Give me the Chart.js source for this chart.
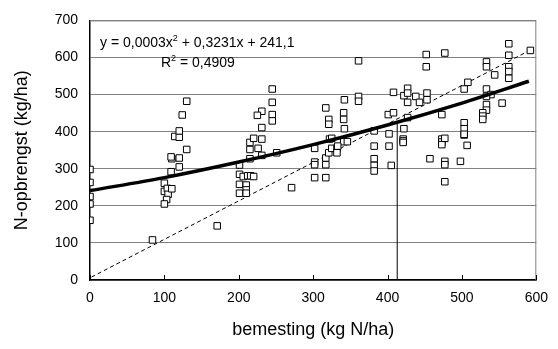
<!DOCTYPE html>
<html lang="nl">
<head>
  <meta charset="UTF-8" />
  <title>N-opbrengst vs bemesting</title>
  <script src="https://cdn.jsdelivr.net/npm/chart.js"></script>
  <style>
    body { margin: 0; background: #fff; }
    .chart-container { position: relative; width: 558px; height: 349px; }
  </style>
</head>
<body>
  <div class="chart-container">
    <canvas id="scatterChart" width="558" height="349"></canvas>
  </div>

  <script>
    // measured points (bemesting, N-opbrengst)
    const ptX = [
      0, 0, 0, 0, 0, 84, 171,
      100, 100, 104, 105, 103, 100, 110, 109, 110, 109, 120, 120, 130, 114, 120, 120, 124, 130,
      201, 201, 201, 201, 206, 210, 210, 210, 212, 216, 220, 215, 215, 215, 220, 226, 231, 231, 251,
      245, 245, 245, 245, 231, 225, 231, 271,
      302, 302, 302, 302, 317, 317, 317, 321, 325, 332, 332, 322, 325, 341, 346, 333, 317, 321, 321,
      341, 341, 342, 342, 361, 361, 361,
      382, 382, 382, 382, 382, 402, 402, 405, 401, 408, 408, 422, 422, 421, 421, 421, 427, 427, 427, 427,
      438, 443, 453, 453, 452, 452, 473, 457, 473, 473, 473, 477, 477, 477, 477, 477,
      498, 503, 507, 503, 503, 503, 508, 503,
      533, 533, 533, 539, 533, 533, 533, 528, 528, 528, 554, 544,
      563, 563, 563, 563, 563, 592
    ];
    const ptY = [
      298, 263, 225, 205, 161, 108, 146,
      261, 239, 247, 231, 217, 205, 246, 292, 327, 332, 329, 305, 352, 387, 385, 402, 445, 482,
      310, 285, 258, 234, 279, 256, 243, 234, 281, 281, 279, 327, 352, 371, 382, 355, 380, 336, 343,
      515, 479, 446, 429, 455, 444, 411, 249,
      355, 318, 311, 276, 276, 311, 329, 343, 355, 355, 343, 380, 382, 373, 373, 361, 464, 433, 420,
      451, 433, 408, 486, 591, 495, 482,
      402, 361, 327, 309, 294, 394, 361, 309, 446, 451, 506, 497, 408, 380, 375, 371, 517, 504, 479, 438,
      495, 479, 504, 486, 608, 575, 446, 327, 380, 372, 365, 382, 320, 311, 265, 612,
      320, 391, 363, 424, 408, 393, 533, 515,
      588, 575, 515, 500, 495, 473, 458, 451, 442, 433, 477, 553,
      637, 606, 575, 562, 544, 619
    ];

    // trend line
    const trendX = [0, 100, 200, 300, 400, 500, 590];
    const trendY = [241, 276, 318, 365, 418, 477, 536];

    // dashed reference line and vertical marker
    const diagX = [2, 592];
    const diagY = [8, 620];
    const markX = [413, 413];
    const markY = [0, 426];

    const xTicks = [0, 100, 200, 300, 400, 500, 600];

    const FONT = '"Liberation Sans", Arial, sans-serif';
    const toXY = (xs, ys) => xs.map((x, i) => ({ x: x, y: ys[i] }));

    // equation label, inward x ticks and grey frame
    const extrasPlugin = {
      id: 'extras',
      afterDraw(chart) {
        const ctx = chart.ctx;
        const a = chart.chartArea;
        const xs = chart.scales.x;
        ctx.save();
        ctx.strokeStyle = '#808080';
        ctx.lineWidth = 1;
        ctx.beginPath();
        ctx.moveTo(a.left, a.top + 0.5);
        ctx.lineTo(a.right - 0.5, a.top + 0.5);
        ctx.lineTo(a.right - 0.5, a.bottom);
        ctx.stroke();

        ctx.strokeStyle = '#000';
        ctx.beginPath();
        xTicks.forEach(v => {
          const px = Math.round(xs.getPixelForValue(v)) + 0.5;
          ctx.moveTo(px, a.bottom);
          ctx.lineTo(px, a.bottom - 5);
        });
        ctx.stroke();

        ctx.fillStyle = '#000';
        ctx.textBaseline = 'alphabetic';
        const big = '14px ' + FONT;
        const small = '9px ' + FONT;
        ctx.font = big;
        let x = 100;
        const y1 = 47;
        let t = 'y = 0,0003x';
        ctx.fillText(t, x, y1);
        x += ctx.measureText(t).width;
        ctx.font = small;
        ctx.fillText('2', x, y1 - 6);
        x += ctx.measureText('2').width;
        ctx.font = big;
        ctx.fillText(' + 0,3231x + 241,1', x, y1);

        x = 161;
        const y2 = 67;
        ctx.fillText('R', x, y2);
        x += ctx.measureText('R').width;
        ctx.font = small;
        ctx.fillText('2', x, y2 - 6);
        x += ctx.measureText('2').width;
        ctx.font = big;
        ctx.fillText(' = 0,4909', x, y2);
        ctx.restore();
      }
    };

    const ctx = document.getElementById('scatterChart').getContext('2d');
    new Chart(ctx, {
      type: 'scatter',
      data: {
        datasets: [
          {
            label: 'metingen',
            data: toXY(ptX, ptY),
            pointStyle: 'rect',
            pointRadius: 4.6,
            backgroundColor: '#fff',
            borderColor: '#000',
            borderWidth: 1,
            order: 1
          },
          {
            label: 'trend',
            type: 'line',
            data: toXY(trendX, trendY),
            borderColor: '#000',
            borderWidth: 3.5,
            pointRadius: 0,
            cubicInterpolationMode: 'monotone',
            fill: false,
            order: 0
          },
          {
            label: '1:1',
            type: 'line',
            data: toXY(diagX, diagY),
            borderColor: '#000',
            borderWidth: 1,
            borderDash: [4, 3],
            pointRadius: 0,
            fill: false,
            order: 2
          },
          {
            label: 'marker',
            type: 'line',
            data: toXY(markX, markY),
            borderColor: '#000',
            borderWidth: 1,
            pointRadius: 0,
            fill: false,
            order: 2
          }
        ]
      },
      options: {
        responsive: false,
        animation: false,
        layout: { padding: { left: 0, top: 16, right: 13, bottom: 0 } },
        plugins: {
          legend: { display: false },
          tooltip: { enabled: false }
        },
        scales: {
          x: {
            type: 'linear',
            min: 0,
            max: 600,
            afterFit: s => { s.height = 69; },
            ticks: {
              stepSize: 100,
              color: '#000',
              padding: 10,
              font: { family: FONT, size: 14 }
            },
            grid: { drawOnChartArea: false, drawTicks: false },
            border: { color: '#000', width: 1.5 },
            title: {
              display: true,
              text: 'bemesting (kg N/ha)',
              color: '#000',
              font: { family: FONT, size: 18 },
              padding: { bottom: 8 }
            }
          },
          y: {
            min: 0,
            max: 700,
            afterFit: s => { s.width = 90; },
            ticks: {
              stepSize: 100,
              color: '#000',
              padding: 12,
              font: { family: FONT, size: 14 }
            },
            grid: { color: '#808080', drawTicks: false },
            border: { color: '#000', width: 1.5 },
            title: {
              display: true,
              text: 'N-opbrengst (kg/ha)',
              color: '#000',
              font: { family: FONT, size: 18 },
              padding: { top: 11 }
            }
          }
        }
      },
      plugins: [extrasPlugin]
    });
  </script>
</body>
</html>
